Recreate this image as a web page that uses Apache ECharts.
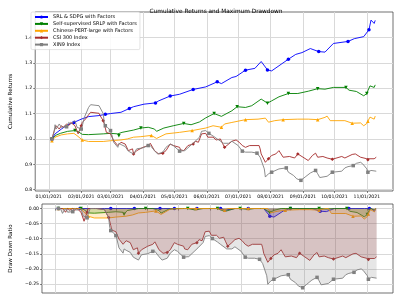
<!DOCTYPE html>
<html><head><meta charset="utf-8">
<script src="https://cdn.jsdelivr.net/npm/echarts@6/dist/echarts.min.js"></script>
<style>html,body{margin:0;padding:0;background:#fff}#c{width:399px;height:299px}</style>
</head><body><div id="c"></div>
<script>
const titleText = 'Cumulative Returns and Maximum Drawdown';
const monthTicks = ['2021-01-01','2021-02-01','2021-03-01','2021-04-01','2021-05-01','2021-06-01','2021-07-01','2021-08-01','2021-09-01','2021-10-01','2021-11-01'];
const retTicks = [0.8, 0.9, 1.0, 1.1, 1.2, 1.3, 1.4];
const ddTicks = [0, -0.05, -0.10, -0.15, -0.20, -0.25];
const names = ['SRL & SDPG with Factors','Self-supervised SRLP with Factors','Chinese-PERT-large with Factors','CSI 300 Index','XIN9 Index'];

const srl = [['2021-01-04',1.000],['2021-01-07',1.020],['2021-01-13',1.039],['2021-01-19',1.056],['2021-01-25',1.065],['2021-02-01',1.078],['2021-02-08',1.088],['2021-02-18',1.092],['2021-02-24',1.097],['2021-03-01',1.100],['2021-03-11',1.105],['2021-03-19',1.120],['2021-03-23',1.127],['2021-04-02',1.137],['2021-04-13',1.142],['2021-04-16',1.150],['2021-04-27',1.169],['2021-05-06',1.176],['2021-05-19',1.195],['2021-05-31',1.205],['2021-06-11',1.225],['2021-06-15',1.218],['2021-06-25',1.242],['2021-06-29',1.246],['2021-07-08',1.271],['2021-07-17',1.278],['2021-07-23',1.305],['2021-07-29',1.272],['2021-08-02',1.268],['2021-08-11',1.294],['2021-08-18',1.314],['2021-08-25',1.333],['2021-08-31',1.340],['2021-09-08',1.356],['2021-09-16',1.344],['2021-09-22',1.342],['2021-09-30',1.376],['2021-10-14',1.384],['2021-10-20',1.395],['2021-10-29',1.403],['2021-11-03',1.430],['2021-11-05',1.468],['2021-11-08',1.455],['2021-11-09',1.467]];
const srlp = [['2021-01-04',1.000],['2021-01-08',1.015],['2021-01-12',1.022],['2021-01-19',1.030],['2021-01-26',1.033],['2021-01-29',1.029],['2021-02-02',1.018],['2021-02-08',1.017],['2021-02-22',1.020],['2021-03-01',1.022],['2021-03-08',1.020],['2021-03-09',1.013],['2021-03-12',1.026],['2021-03-23',1.035],['2021-03-30',1.043],['2021-04-06',1.046],['2021-04-12',1.039],['2021-04-14',1.030],['2021-04-21',1.043],['2021-04-30',1.052],['2021-05-10',1.061],['2021-05-17',1.056],['2021-05-25',1.067],['2021-05-31',1.083],['2021-06-08',1.100],['2021-06-15',1.089],['2021-06-25',1.111],['2021-06-30',1.127],['2021-07-08',1.124],['2021-07-14',1.131],['2021-07-23',1.157],['2021-07-29',1.141],['2021-08-02',1.150],['2021-08-09',1.166],['2021-08-18',1.179],['2021-08-27',1.179],['2021-09-06',1.188],['2021-09-15',1.198],['2021-09-22',1.196],['2021-09-30',1.203],['2021-10-12',1.203],['2021-10-15',1.192],['2021-10-22',1.187],['2021-10-29',1.170],['2021-11-01',1.179],['2021-11-02',1.190],['2021-11-04',1.209],['2021-11-08',1.203],['2021-11-09',1.213]];
const pert = [['2021-01-04',0.993],['2021-01-07',1.007],['2021-01-13',1.016],['2021-01-19',1.020],['2021-01-25',1.022],['2021-01-28',1.013],['2021-02-02',0.996],['2021-02-08',0.990],['2021-02-22',0.990],['2021-03-01',0.993],['2021-03-11',0.996],['2021-03-17',1.000],['2021-03-23',1.007],['2021-03-30',1.009],['2021-04-09',1.014],['2021-04-14',1.002],['2021-04-23',1.020],['2021-05-06',1.026],['2021-05-18',1.033],['2021-05-31',1.043],['2021-06-07',1.052],['2021-06-15',1.046],['2021-06-18',1.059],['2021-06-25',1.065],['2021-07-08',1.076],['2021-07-20',1.078],['2021-07-27',1.082],['2021-07-30',1.066],['2021-08-05',1.072],['2021-08-13',1.076],['2021-08-27',1.078],['2021-09-06',1.078],['2021-09-15',1.076],['2021-09-22',1.085],['2021-09-24',1.090],['2021-09-27',1.072],['2021-10-11',1.072],['2021-10-18',1.062],['2021-10-26',1.063],['2021-10-29',1.052],['2021-11-01',1.061],['2021-11-02',1.070],['2021-11-04',1.086],['2021-11-08',1.078],['2021-11-09',1.090]];
const csi = [['2021-01-04',1.000],['2021-01-06',1.030],['2021-01-08',1.052],['2021-01-11',1.039],['2021-01-13',1.052],['2021-01-15',1.046],['2021-01-18',1.059],['2021-01-20',1.052],['2021-01-22',1.065],['2021-01-26',1.052],['2021-01-29',1.020],['2021-02-01',1.052],['2021-02-02',1.065],['2021-02-05',1.078],['2021-02-08',1.095],['2021-02-10',1.105],['2021-02-18',1.101],['2021-02-19',1.092],['2021-02-22',1.072],['2021-02-23',1.059],['2021-02-24',1.043],['2021-02-25',1.026],['2021-03-01',1.020],['2021-03-02',1.013],['2021-03-04',0.993],['2021-03-08',0.974],['2021-03-09',0.967],['2021-03-11',0.987],['2021-03-15',0.980],['2021-03-18',0.954],['2021-03-22',0.961],['2021-03-23',0.941],['2021-03-26',0.954],['2021-04-01',0.967],['2021-04-06',0.974],['2021-04-08',0.983],['2021-04-12',0.954],['2021-04-13',0.948],['2021-04-16',0.941],['2021-04-20',0.944],['2021-04-23',0.954],['2021-04-27',0.980],['2021-04-30',0.974],['2021-05-06',0.967],['2021-05-07',0.957],['2021-05-10',0.954],['2021-05-14',0.974],['2021-05-19',0.980],['2021-05-21',0.991],['2021-05-24',0.987],['2021-05-27',1.020],['2021-05-31',1.022],['2021-06-02',1.007],['2021-06-07',1.007],['2021-06-10',0.996],['2021-06-14',1.000],['2021-06-16',0.983],['2021-06-18',0.967],['2021-06-22',0.980],['2021-06-25',0.991],['2021-06-29',0.996],['2021-07-02',0.987],['2021-07-05',0.974],['2021-07-08',0.967],['2021-07-12',0.974],['2021-07-21',0.974],['2021-07-22',0.961],['2021-07-23',0.941],['2021-07-27',0.908],['2021-07-30',0.922],['2021-08-02',0.935],['2021-08-06',0.941],['2021-08-09',0.954],['2021-08-11',0.941],['2021-08-13',0.928],['2021-08-19',0.931],['2021-08-24',0.925],['2021-08-27',0.941],['2021-09-01',0.928],['2021-09-06',0.915],['2021-09-10',0.935],['2021-09-13',0.944],['2021-09-15',0.928],['2021-09-20',0.931],['2021-09-24',0.925],['2021-09-29',0.920],['2021-10-08',0.931],['2021-10-11',0.925],['2021-10-18',0.939],['2021-10-21',0.941],['2021-10-26',0.928],['2021-11-01',0.922],['2021-11-02',0.918],['2021-11-08',0.922],['2021-11-10',0.928]];
const xin9 = [['2021-01-04',1.000],['2021-01-06',1.026],['2021-01-07',1.056],['2021-01-08',1.039],['2021-01-11',1.059],['2021-01-13',1.046],['2021-01-18',1.048],['2021-01-20',1.065],['2021-01-22',1.059],['2021-01-26',1.072],['2021-01-28',1.046],['2021-02-01',1.039],['2021-02-02',1.052],['2021-02-04',1.085],['2021-02-08',1.124],['2021-02-10',1.135],['2021-02-18',1.131],['2021-02-19',1.127],['2021-02-22',1.100],['2021-02-23',1.065],['2021-02-24',1.052],['2021-02-26',1.046],['2021-03-01',1.033],['2021-03-02',1.020],['2021-03-04',0.987],['2021-03-08',0.967],['2021-03-09',0.983],['2021-03-11',0.978],['2021-03-15',0.970],['2021-03-18',0.952],['2021-03-23',0.941],['2021-03-26',0.961],['2021-04-01',0.965],['2021-04-06',0.974],['2021-04-08',0.974],['2021-04-12',0.954],['2021-04-15',0.941],['2021-04-20',0.948],['2021-04-23',0.967],['2021-04-27',0.980],['2021-04-30',0.974],['2021-05-06',0.952],['2021-05-11',0.954],['2021-05-17',0.976],['2021-05-20',0.987],['2021-05-25',1.007],['2021-05-27',1.030],['2021-05-31',1.033],['2021-06-03',1.022],['2021-06-08',1.009],['2021-06-11',1.000],['2021-06-17',0.983],['2021-06-22',0.983],['2021-06-25',0.991],['2021-07-01',0.974],['2021-07-05',0.952],['2021-07-08',0.948],['2021-07-14',0.948],['2021-07-19',0.944],['2021-07-22',0.928],['2021-07-26',0.882],['2021-07-27',0.850],['2021-07-30',0.863],['2021-08-02',0.869],['2021-08-09',0.882],['2021-08-16',0.886],['2021-08-18',0.869],['2021-08-23',0.856],['2021-08-26',0.843],['2021-08-30',0.837],['2021-09-03',0.850],['2021-09-08',0.866],['2021-09-13',0.876],['2021-09-15',0.863],['2021-09-17',0.848],['2021-09-24',0.853],['2021-09-29',0.869],['2021-10-08',0.873],['2021-10-11',0.886],['2021-10-14',0.891],['2021-10-19',0.895],['2021-10-22',0.904],['2021-10-26',0.908],['2021-10-28',0.902],['2021-11-01',0.882],['2021-11-02',0.869],['2021-11-05',0.876],['2021-11-10',0.873]];

const srlMarks = ['2021-01-04','2021-01-25','2021-02-24','2021-03-19','2021-04-13','2021-04-27','2021-05-19','2021-06-11','2021-07-08','2021-07-29','2021-08-18','2021-09-16','2021-10-14','2021-11-03'];
const srlpMarks = ['2021-01-04','2021-01-26','2021-03-09','2021-03-30','2021-05-10','2021-06-08','2021-06-30','2021-07-29','2021-08-18','2021-09-15','2021-10-12','2021-11-01'];
const pertMarks = ['2021-01-04','2021-02-02','2021-04-09','2021-05-18','2021-06-15','2021-07-08','2021-08-13','2021-09-15','2021-10-18','2021-11-02'];
const csiMarks = ['2021-01-04','2021-02-01','2021-02-22','2021-03-23','2021-04-20','2021-05-19','2021-06-18','2021-07-30','2021-08-27','2021-09-29','2021-11-02'];
const xin9Marks = ['2021-01-04','2021-01-18','2021-02-01','2021-02-24','2021-03-01','2021-04-06','2021-05-06','2021-06-03','2021-07-05','2021-07-19','2021-08-02','2021-08-16','2021-08-30','2021-09-13','2021-09-29','2021-10-19','2021-11-02'];

const colors = ['#0000ff','#008000','#ffa500','#a52a2a','#808080'];
const symbols = ['circle','triangle','triangle','diamond','rect'];
const symbolRot = [0,180,0,0,0];

function toTs(s){const p=s.split('-').map(Number);return Date.UTC(p[0],p[1]-1,p[2]);}
function fmtDate(v){const d=new Date(v);const p=n=>String(n).padStart(2,'0');return p(d.getUTCMonth()+1)+'/'+p(d.getUTCDate())+'/'+d.getUTCFullYear();}
function drawdown(arr){let peak=-Infinity;return arr.map(([d,v])=>{peak=Math.max(peak,v);return [d,v/peak-1];});}
const fmtDD = v => (Math.abs(v)<1e-9?'0.00':v.toFixed(2)).replace('-','\u2212');

const all = [srl,srlp,pert,csi,xin9];
const marks = [srlMarks,srlpMarks,pertMarks,csiMarks,xin9Marks];
const tickTs = monthTicks.map(toTs);
const xMin = toTs('2020-12-19'), xMax = toTs('2021-11-26');
const F = 'DejaVu Sans';
const fs = 4.6;
const fsBig = 5.6;
const fsLeg = 5.0;

function mkData(arr, mk){return arr.map(([d,v])=>mk.includes(d)?{value:[toTs(d),v]}:{value:[toTs(d),v],symbol:'none'});}

const series = [];
all.forEach((arr,i)=>{
  series.push({name:names[i],type:'line',xAxisIndex:0,yAxisIndex:0,data:mkData(arr,marks[i]),
    symbol:symbols[i],symbolRotate:symbolRot[i],symbolSize:3.5,showSymbol:true,
    lineStyle:{color:colors[i],width:0.9},itemStyle:{color:colors[i]},z:2+i,silent:true});
});
all.forEach((arr,i)=>{
  const dd = drawdown(arr);
  series.push({name:names[i],type:'line',xAxisIndex:1,yAxisIndex:1,data:mkData(dd,marks[i]),
    symbol:symbols[i],symbolRotate:symbolRot[i],symbolSize:3.5,showSymbol:true,
    lineStyle:{color:colors[i],width:0.9},itemStyle:{color:colors[i]},
    areaStyle:{color:colors[i],opacity:0.2},z:2+i,silent:true});
});

const xCommon = {type:'value',min:xMin,max:xMax,scale:true,
  axisLine:{show:false},
  axisTick:{show:true,length:2,inside:false,customValues:tickTs,lineStyle:{color:'#333',width:0.6}},
  splitLine:{show:true,lineStyle:{color:'#d9d9d9',width:1}},
};
const yCommon = {type:'value',axisLine:{show:false},
  splitLine:{show:true,lineStyle:{color:'#d9d9d9',width:1}},
  nameLocation:'middle',nameRotate:90,nameTextStyle:{fontFamily:F,fontSize:fsBig,color:'#000'}};

const chart = echarts.init(document.getElementById('c'),null,{renderer:'canvas',width:399,height:299});
chart.setOption({
  animation:false,
  backgroundColor:'#fff',
  title:{text:titleText,left:211,textAlign:'center',top:3,textStyle:{fontFamily:F,fontSize:5.8,fontWeight:'normal',color:'#000'}},
  legend:{data:names,orient:'vertical',left:31,top:12,itemWidth:13,itemHeight:4,itemGap:1.9,
    padding:[2.5,3,2.5,3],backgroundColor:'rgba(255,255,255,0.85)',borderColor:'#d0d0d0',borderWidth:0.6,borderRadius:1.5,
    textStyle:{fontFamily:F,fontSize:fsLeg,lineHeight:5,color:'#000',padding:[0,0,0,0]}},
  grid:[
    {left:29,right:6,top:12,height:179,show:true,borderColor:'#333',borderWidth:0.7,backgroundColor:'transparent',containLabel:false},
    {left:29,right:6,top:204,height:89,show:true,borderColor:'#333',borderWidth:0.7,backgroundColor:'transparent',containLabel:false}
  ],
  xAxis:[
    Object.assign({},xCommon,{gridIndex:0,axisLabel:{show:true,customValues:tickTs,formatter:fmtDate,fontFamily:F,fontSize:fs,color:'#000',margin:3}}),
    Object.assign({},xCommon,{gridIndex:1,axisLabel:{show:false,customValues:tickTs}})
  ],
  yAxis:[
    Object.assign({},yCommon,{gridIndex:0,min:0.795,max:1.50,name:'Cumulative Returns',nameGap:16,
      axisTick:{show:true,length:2,customValues:retTicks,lineStyle:{color:'#333',width:0.6}},
      axisLabel:{customValues:retTicks,formatter:v=>v.toFixed(1),fontFamily:F,fontSize:fs,color:'#000',margin:3}}),
    Object.assign({},yCommon,{gridIndex:1,min:-0.28,max:0.015,name:'Draw Down Ratio',nameGap:18,
      axisTick:{show:true,length:2,customValues:ddTicks,lineStyle:{color:'#333',width:0.6}},
      axisLabel:{customValues:ddTicks,formatter:fmtDD,fontFamily:F,fontSize:fs,color:'#000',margin:3}})
  ],
  series:series
});
</script></body></html>
